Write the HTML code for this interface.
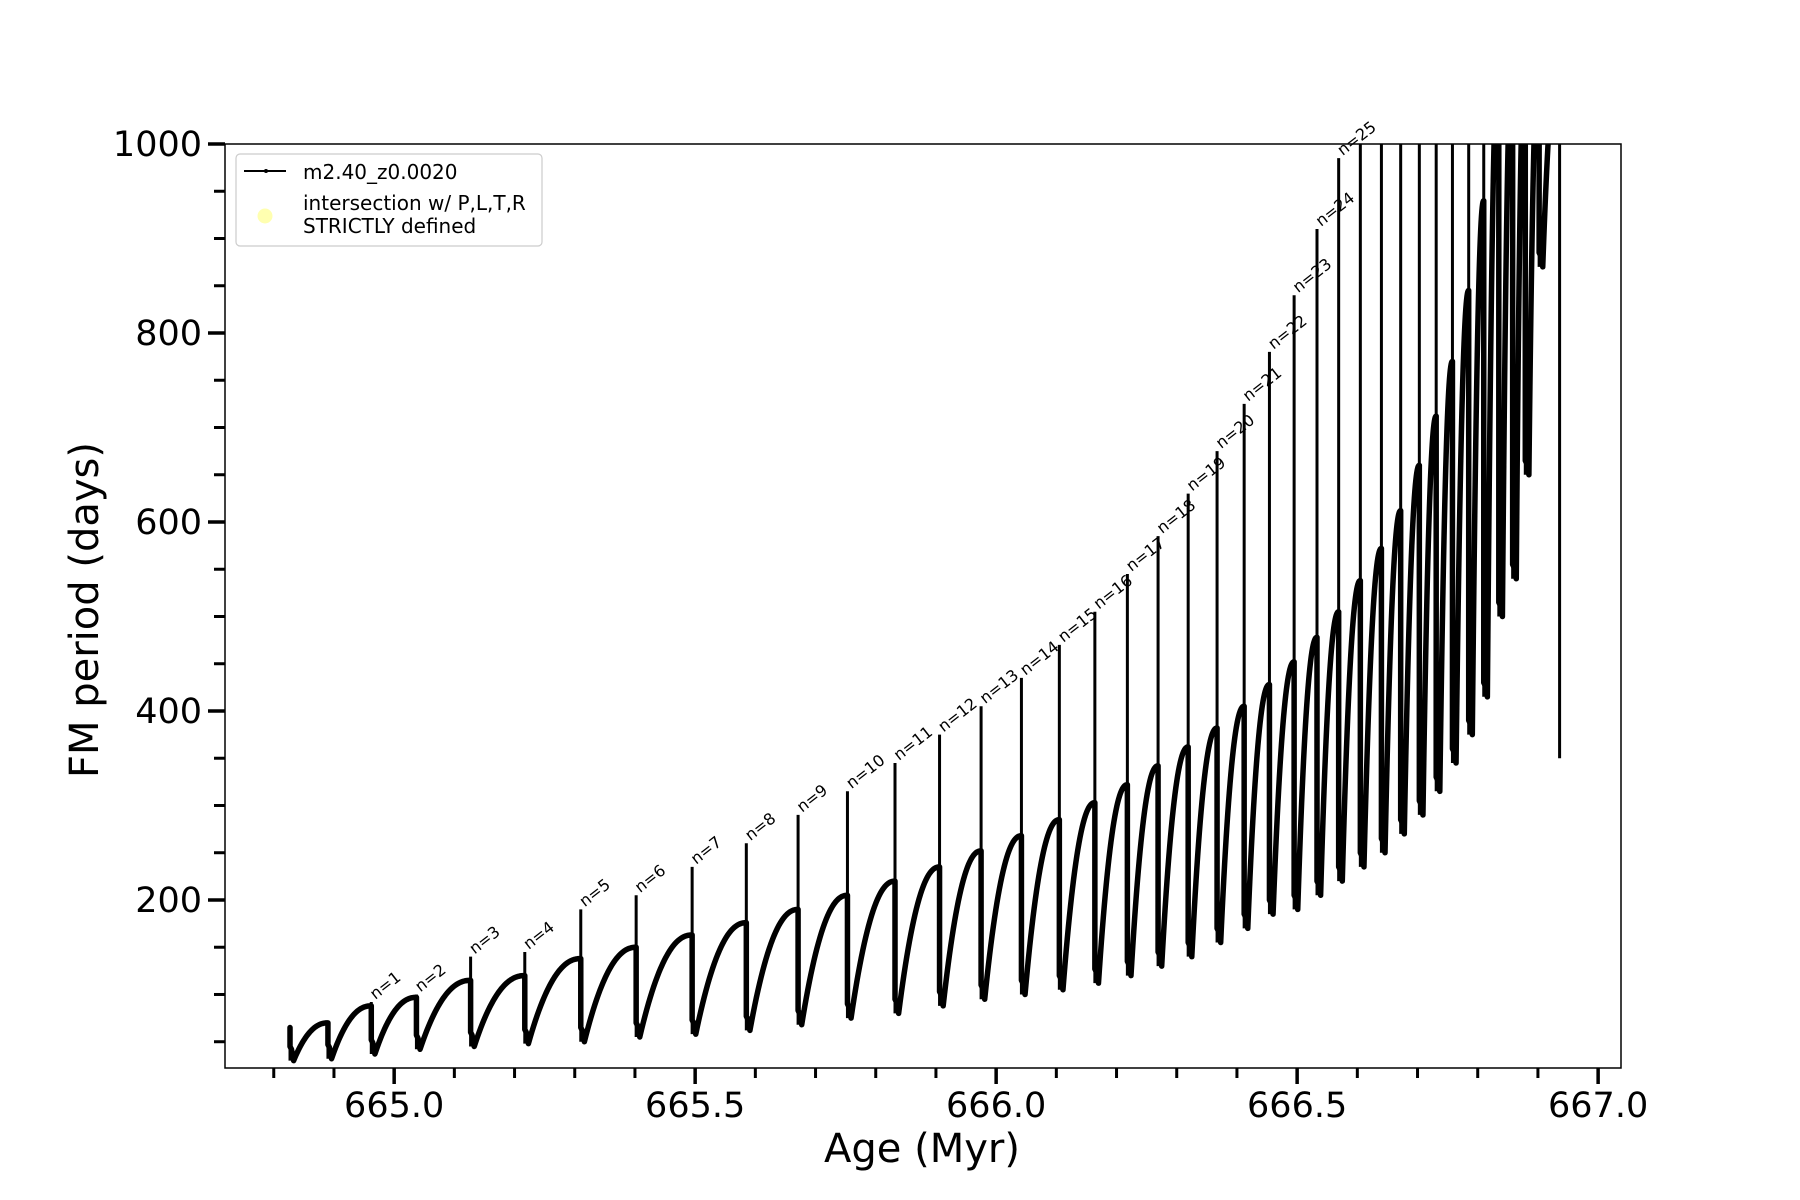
<!DOCTYPE html>
<html><head><meta charset="utf-8"><style>
html,body{margin:0;padding:0;background:#fff;}
svg{display:block;font-family:"DejaVu Sans","Liberation Sans",sans-serif;}
</style></head><body>
<svg id="chart" width="1800" height="1200" viewBox="0 0 1800 1200">
<defs><clipPath id="clip"><rect x="225" y="144" width="1396" height="924"/></clipPath></defs>
<rect x="0" y="0" width="1800" height="1200" fill="#fff"/>
<g id="series" clip-path="url(#clip)"></g>
<g id="labels"></g>
<rect x="225" y="144" width="1396" height="924" fill="none" stroke="#000" stroke-width="1.5"/>
<g id="xticks"></g>
<g id="yticks"></g>
<text x="922" y="1162" font-size="40" text-anchor="middle">Age (Myr)</text>
<text transform="translate(98,610) rotate(-90)" font-size="40" text-anchor="middle">FM period (days)</text>
<g>
<rect x="236" y="154" width="306" height="92" rx="4" fill="#fff" stroke="#ccc" stroke-width="1.2"/>
<line x1="244" y1="171" x2="286" y2="171" stroke="#000" stroke-width="2"/>
<circle cx="266" cy="171" r="2" fill="#000"/>
<text x="303" y="179" font-size="20">m2.40_z0.0020</text>
<circle cx="265" cy="216" r="7.5" fill="#ffffb0"/>
<text x="303" y="210" font-size="20">intersection w/ P,L,T,R</text>
<text x="303" y="233" font-size="20">STRICTLY defined</text>
</g>
</svg>
<script>
const ages = [664.827,664.890,664.962,665.037,665.127,665.217,665.310,665.402,665.495,665.585,665.671,665.753,665.832,665.906,665.975,666.042,666.105,666.164,666.218,666.269,666.319,666.367,666.412,666.454,666.495,666.533,666.569,666.605,666.640,666.672,666.703,666.731,666.758,666.785,666.810,666.835,666.858,666.879,666.902,666.936];
const tops = [65,70,88,97,115,120,138,150,163,176,190,205,220,235,252,268,285,303,322,342,362,382,405,428,452,478,505,538,572,612,660,712,770,845,940,1100,1100,1100,1100,1100];
const peaks = [65,70,92,100,140,145,190,205,235,260,290,315,345,375,405,435,470,505,545,585,630,675,725,780,840,910,985,1100,1100,1100,1100,1100,1100,1100,1100,1100,1100,1100,1100,1100];
const mins = [30,32,37,42,45,48,50,55,58,62,68,75,80,88,95,100,105,112,120,130,140,155,170,185,190,205,220,235,250,270,290,315,345,375,415,500,540,650,870,350];
const labelNs = [1,2,3,4,5,6,7,8,9,10,11,12,13,14,15,16,17,18,19,20,21,22,23,24,25];
const xTickMajor = [665.0,665.5,666.0,666.5,667.0];
const xTickLabels = ["665.0","665.5","666.0","666.5","667.0"];
const yTickMajor = [200,400,600,800,1000];
const yTickLabels = ["200","400","600","800","1000"];

const NS='http://www.w3.org/2000/svg';
const X0=225,X1=1621,Y0=144,Y1=1068;
const xMin=664.719,xMax=667.038,yMin=22.2,yMax=1000;
function xs(a){return X0+(a-xMin)/(xMax-xMin)*(X1-X0);}
function ys(v){return Y1-(v-yMin)/(yMax-yMin)*(Y1-Y0);}
function mk(t,attrs,parent){const e=document.createElementNS(NS,t);for(const k in attrs)e.setAttribute(k,attrs[k]);parent.appendChild(e);return e;}

const series=document.getElementById('series');
const d=0.006;
let curveD='';
let spikeD='';
const last=ages.length-1;
for(let i=0;i<ages.length;i++){
  const a=ages[i];
  spikeD+=`M${xs(a)},${ys(Math.max(tops[i],peaks[i]))}L${xs(a)},${ys(mins[i])}`;
  if(i===last) continue;
  curveD+=`M${xs(a)},${ys(tops[i])}L${xs(a)},${ys(mins[i]+15)}L${xs(a+d*0.4)},${ys(mins[i]+12)}L${xs(a+d)},${ys(mins[i])}`;
  const a2=ages[i+1];
  const st=a+d;
  for(let k=1;k<=30;k++){
    const t=k/30;
    const f=1-Math.pow(1-t,2.2);
    curveD+=`L${xs(st+(a2-st)*t)},${ys(mins[i]+(tops[i+1]-mins[i])*f)}`;
  }
}
const sp=mk('path',{d:spikeD,fill:'none',stroke:'#000','stroke-width':3},series);


const cv=mk('path',{d:curveD,fill:'none',stroke:'#000','stroke-width':5.5,'stroke-linejoin':'round','stroke-linecap':'round'},series);



const labels=document.getElementById('labels');
labelNs.forEach((n)=>{
  const i=n+1;
  const x=xs(ages[i])+4, y=ys(peaks[i])-2;
  const t=mk('text',{x:0,y:0,'font-size':16,transform:`translate(${x},${y}) rotate(-38)`},labels);
  t.textContent='n='+n;
  
  
});

const xt=document.getElementById('xticks');
for(let k=0;k<=22;k++){
  const v=664.8+k*0.1;
  if(v>xMax)break;
  const isMaj=xTickMajor.some(m=>Math.abs(m-v)<1e-6);
  const l=mk('line',{x1:xs(v),x2:xs(v),y1:Y1,y2:Y1+(isMaj?16:10),stroke:'#000','stroke-width':isMaj?3.5:3},xt);
  
  
}
xTickMajor.forEach((v,i)=>{
  const t=mk('text',{x:xs(v),y:1117,'font-size':35,'text-anchor':'middle'},xt);
  t.textContent=xTickLabels[i];
  
  
});
const yt=document.getElementById('yticks');
for(let v=50;v<=1000;v+=50){
  const isMaj=yTickMajor.includes(v);
  const l=mk('line',{x1:X0-(isMaj?17:11),x2:X0,y1:ys(v),y2:ys(v),stroke:'#000','stroke-width':isMaj?3.5:3},yt);
  
  
}
yTickMajor.forEach((v,i)=>{
  const t=mk('text',{x:202,y:ys(v)+12,'font-size':35,'text-anchor':'end'},yt);
  t.textContent=yTickLabels[i];
  
  
});
</script>
</body></html>
